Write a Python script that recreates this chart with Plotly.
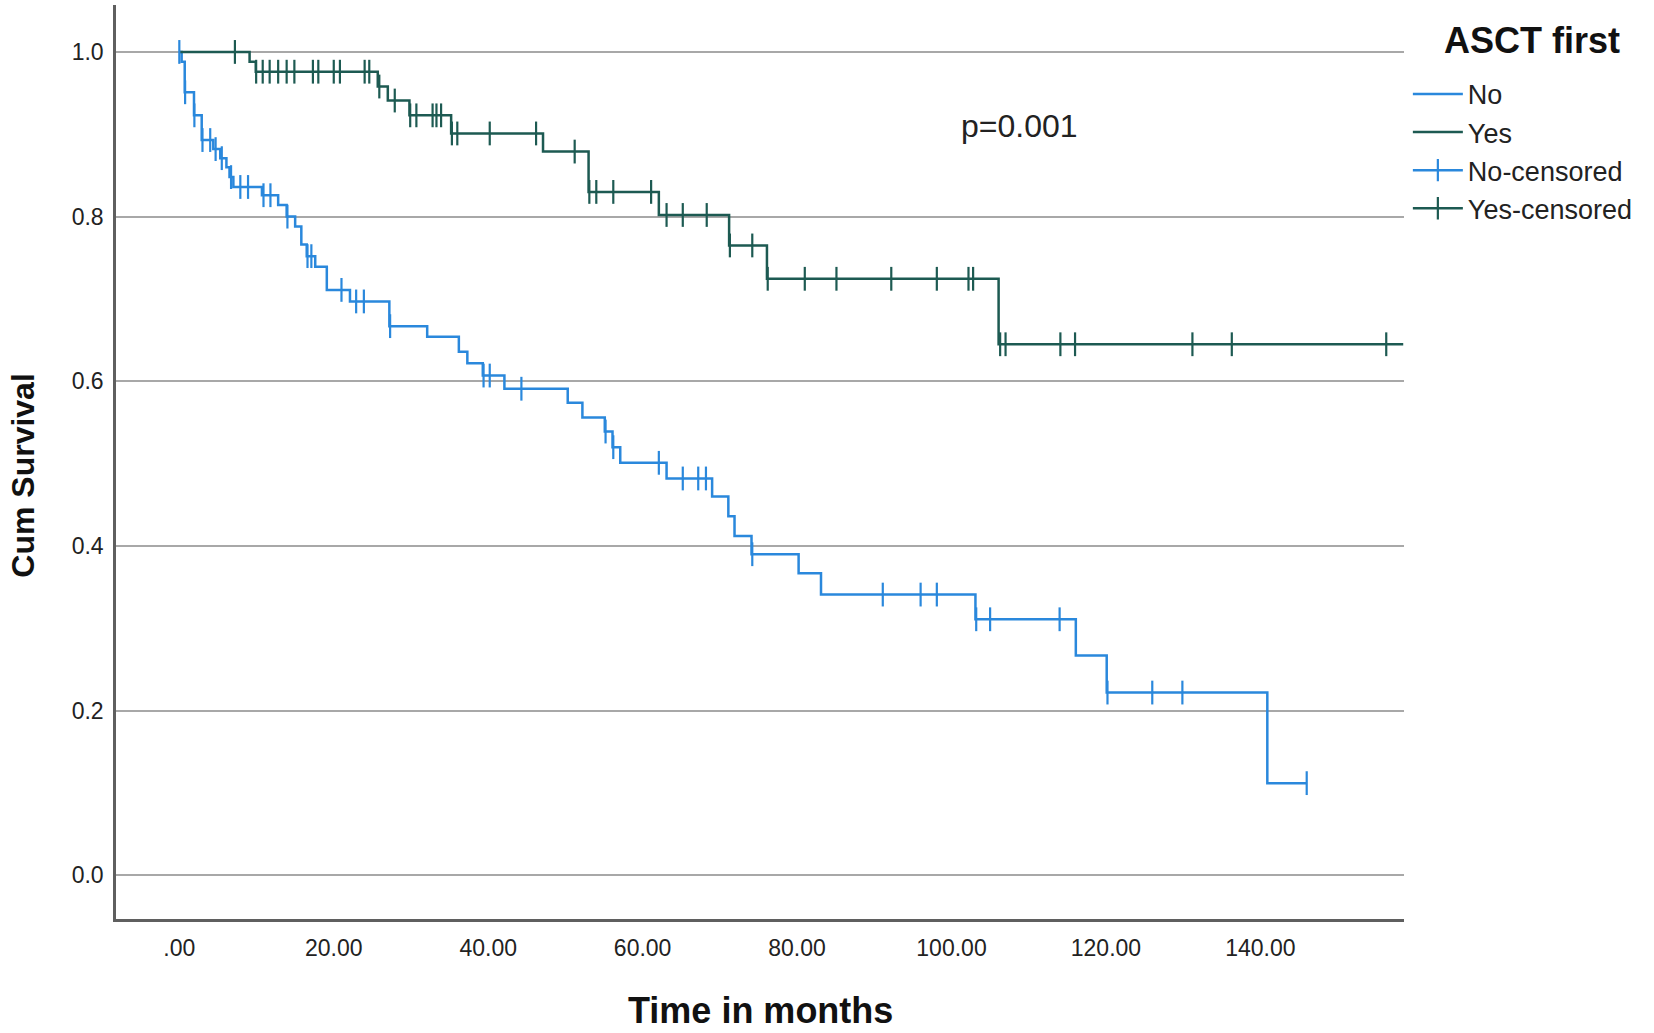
import numpy as np
import plotly.graph_objects as go

# ---------------- data ----------------
# "No" group: event times and survival after each step
no_times = [0, 0.3, 0.7, 1.9, 2.9, 4.4, 5.3, 6.1, 6.5, 7.0, 10.7, 12.8, 13.9, 15.0, 15.8,
            16.5, 17.6, 19.1, 22.1, 27.2, 32.1, 36.2, 37.3, 39.3, 42.1, 50.3, 52.2, 55.1,
            56.1, 57.1, 63.1, 69.0, 71.1, 71.9, 74.1, 80.2, 83.1, 103.1, 116.1, 120.1, 140.9]
no_surv = [1.0, 0.988, 0.951, 0.923, 0.893, 0.882, 0.871, 0.860, 0.848, 0.836, 0.826, 0.814,
           0.800, 0.788, 0.766, 0.752, 0.739, 0.711, 0.697, 0.667, 0.654, 0.636, 0.622, 0.607,
           0.591, 0.574, 0.556, 0.539, 0.520, 0.501, 0.482, 0.460, 0.436, 0.412, 0.390, 0.367,
           0.341, 0.311, 0.267, 0.222, 0.112]
no_end = 146.0
no_censor = [0.0, 0.75, 1.95, 3.0, 4.0, 4.7, 5.5, 6.7, 7.9, 8.9, 10.9, 11.8, 14.0, 16.6, 17.1,
             21.0, 22.9, 23.9, 27.3, 39.4, 40.2, 44.3, 55.2, 56.2, 62.1, 65.2, 67.2, 68.2,
             74.2, 91.1, 96.0, 98.1, 103.2, 105.0, 114.0, 120.2, 126.0, 129.9, 146.0]

# "Yes" group
yes_times = [0, 9.1, 9.9, 25.7, 27.0, 29.8, 35.2, 47.1, 53.0, 62.1, 71.2, 76.1, 106.1]
yes_surv = [1.0, 0.988, 0.976, 0.958, 0.941, 0.923, 0.901, 0.879, 0.830, 0.802, 0.765,
            0.7245, 0.645]
yes_end = 158.5
yes_censor = [7.2, 9.95, 10.8, 11.7, 12.8, 13.9, 14.9, 17.3, 18.0, 20.0, 20.8, 24.0, 24.6,
              25.9, 27.9, 29.9, 30.7, 32.8, 33.3, 33.9, 35.3, 36.0, 40.2, 46.2, 51.2, 53.1,
              54.0, 56.2, 61.1, 63.1, 65.2, 68.3, 71.3, 74.2, 76.2, 81.0, 85.1, 92.2, 98.1,
              102.2, 102.8, 106.3, 107.0, 114.1, 116.0, 131.2, 136.3, 156.3]

x_tickvals = [0, 20, 40, 60, 80, 100, 120, 140]
x_ticktext = [".00", "20.00", "40.00", "60.00", "80.00", "100.00", "120.00", "140.00"]
y_tickvals = [0.0, 0.2, 0.4, 0.6, 0.8, 1.0]
y_ticktext = ["0.0", "0.2", "0.4", "0.6", "0.8", "1.0"]

# ---------------- styling ----------------
C_NO = "#2a88dc"
C_YES = "#1d5a52"
FONT = "Liberation Sans, Arial, sans-serif"


def step_xy(times, surv, end):
    return list(times) + [end], list(surv) + [surv[-1]]


def censor_xy(times, surv, ctimes):
    t = np.asarray(times)
    s = np.asarray(surv)
    xs, ys = [], []
    for c in ctimes:
        i = np.searchsorted(t, c, side="right") - 1
        xs += [c, None]
        ys += [float(s[max(i, 0)]), None]
    return xs, ys


fig = go.Figure()

for name, times, surv, end, col in [("No", no_times, no_surv, no_end, C_NO),
                                     ("Yes", yes_times, yes_surv, yes_end, C_YES)]:
    x, y = step_xy(times, surv, end)
    fig.add_trace(go.Scatter(x=x, y=y, mode="lines", name=name,
                             line=dict(color=col, width=2.5, shape="hv"),
                             hoverinfo="skip"))

for name, times, surv, cens, col in [("No-censored", no_times, no_surv, no_censor, C_NO),
                                      ("Yes-censored", yes_times, yes_surv, yes_censor, C_YES)]:
    x, y = censor_xy(times, surv, cens)
    fig.add_trace(go.Scatter(x=x, y=y, mode="lines+markers", name=name,
                             connectgaps=False,
                             line=dict(color=col, width=2.5),
                             marker=dict(symbol="line-ns", size=17,
                                         line=dict(color=col, width=2.2)),
                             hoverinfo="skip"))

fig.add_annotation(x=108.8, y=0.91, xref="x", yref="y", text="p=0.001",
                   showarrow=False, font=dict(family=FONT, size=32, color="#222222"))

fig.add_annotation(x=0.5, y=-0.0996, xref="paper", yref="paper", text="<b>Time in months</b>",
                   showarrow=False, xanchor="center", yanchor="middle",
                   font=dict(family=FONT, size=36, color="#111111"))
fig.add_annotation(x=-0.0722, y=0.485, xref="paper", yref="paper", text="<b>Cum Survival</b>",
                   showarrow=False, xanchor="center", yanchor="middle", textangle=-90,
                   font=dict(family=FONT, size=32, color="#111111"))
fig.add_annotation(x=1.0994, y=0.9617, xref="paper", yref="paper", text="<b>ASCT first</b>",
                   showarrow=False, xanchor="center", yanchor="middle",
                   font=dict(family=FONT, size=36, color="#111111"))

fig.update_layout(
    width=1654, height=1033,
    margin=dict(l=116, r=250, t=5, b=114),
    paper_bgcolor="white", plot_bgcolor="white",
    font=dict(family=FONT, color="#222222"),
    showlegend=True,
    legend=dict(x=1.003, y=0.929, xanchor="left", yanchor="top",
                font=dict(family=FONT, size=27, color="#222222"),
                itemwidth=50, bgcolor="rgba(0,0,0,0)", tracegroupgap=0),
    xaxis=dict(range=[-8.2, 158.6], tickvals=x_tickvals, ticktext=x_ticktext,
               showgrid=False, zeroline=False, showline=True, linecolor="#5f5f5f",
               linewidth=2.5, ticks="outside", ticklen=7, tickcolor="rgba(0,0,0,0)",
               tickfont=dict(family=FONT, size=23, color="#222222")),
    yaxis=dict(range=[-0.053, 1.057], tickvals=y_tickvals, ticktext=y_ticktext,
               showgrid=True, gridcolor="#a8a8a8", gridwidth=2, zeroline=False,
               showline=True, linecolor="#5f5f5f", linewidth=2.5,
               ticks="outside", ticklen=5, tickcolor="rgba(0,0,0,0)",
               tickfont=dict(family=FONT, size=23, color="#222222")),
)

fig.write_html("out.html", config={"displayModeBar": False},
               post_script="document.body.style.margin='0px';")
